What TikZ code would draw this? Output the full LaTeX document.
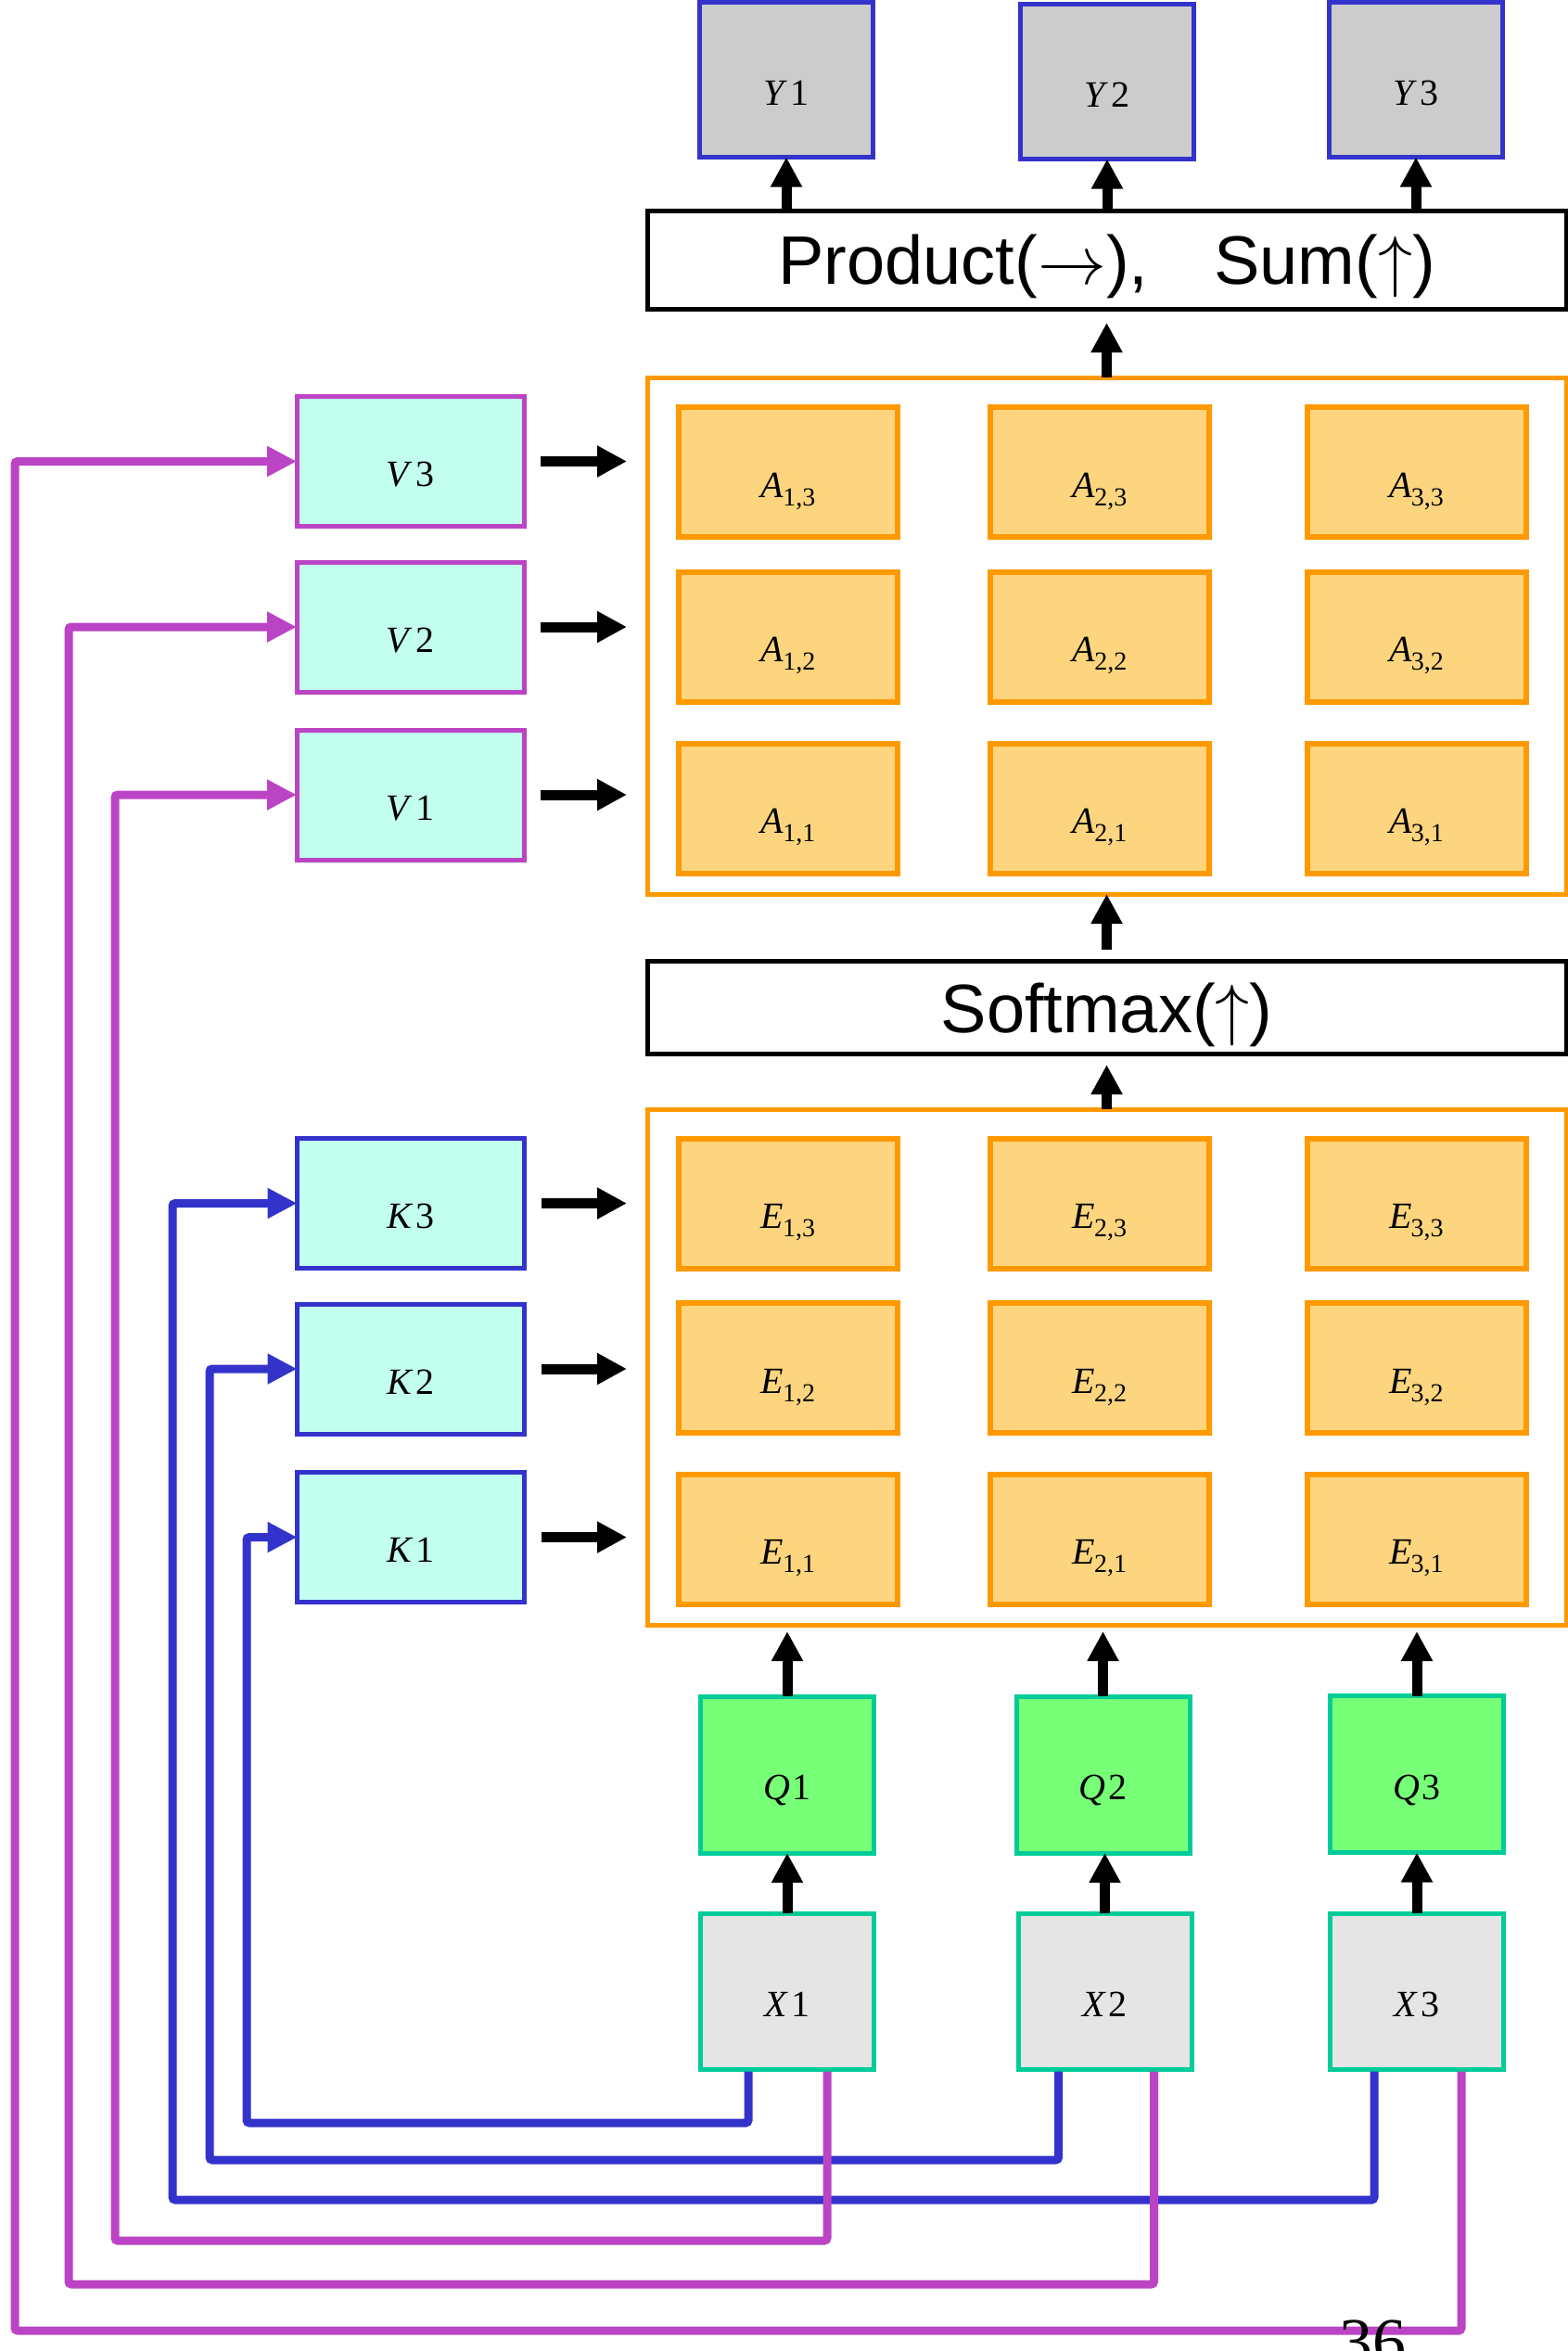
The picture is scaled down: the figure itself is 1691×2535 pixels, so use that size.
\RequirePackage{fix-cm}
\documentclass[tikz,border=0pt]{standalone}
\usepackage{fontspec}
\setmainfont{Liberation Serif}
\newfontfamily\arialfont{Liberation Sans}
\usetikzlibrary{arrows.meta,calc}
\definecolor{mag}{HTML}{BB44C4}
\definecolor{blu}{HTML}{3333CC}
\definecolor{aqua}{HTML}{C2FFEE}
\definecolor{orng}{HTML}{FF9900}
\definecolor{cellfill}{HTML}{FDD57E}
\definecolor{grn}{HTML}{77FF77}
\definecolor{tealb}{HTML}{00CC99}
\definecolor{xgray}{HTML}{E5E5E5}
\definecolor{ygray}{HTML}{CCCCCC}
\newcommand\varlab[2]{\textit{#1}\kern3pt#2}
\newcommand\sublab[2]{\textit{#1}\kern-1pt\raisebox{-9pt}{\fontsize{28}{28}\selectfont #2}}
\begin{document}
\begin{tikzpicture}[x=1pt,y=-1pt,
  bx/.style={rectangle, line width=5pt, inner sep=0pt, outer sep=0pt},
  ybox/.style={bx, draw=blu, fill=ygray, minimum width=187pt, minimum height=167pt},
  vbox/.style={bx, draw=mag, fill=aqua, minimum width=245pt, minimum height=140pt},
  kbox/.style={bx, draw=blu, fill=aqua, minimum width=245pt, minimum height=140pt},
  cell/.style={bx, line width=6pt, draw=orng, fill=cellfill, minimum width=236pt, minimum height=140pt},
  cont/.style={bx, draw=orng, minimum width=991pt, minimum height=557pt},
  wide/.style={bx, draw=black, fill=white, minimum width=991pt, minimum height=#1},
  qbox/.style={bx, draw=tealb, fill=grn, minimum width=187pt, minimum height=169pt},
  xbox/.style={bx, draw=tealb, fill=xgray, minimum width=187pt, minimum height=168pt},
  lab/.style={anchor=base, inner sep=0pt, font=\fontsize{40}{40}\selectfont},
  bigtext/.style={anchor=base, inner sep=0pt, font=\arialfont\fontsize{74}{74}\selectfont},
  blk/.style={draw=black, line width=11pt, -{Triangle[length=32pt,width=32pt]}},
  bwire/.style={draw=blu, line width=9pt, rounded corners=3pt, -{Triangle[length=32pt,width=31pt]}},
  mwire/.style={draw=mag, line width=9pt, rounded corners=3pt, -{Triangle[length=32pt,width=31pt]}}
]
\useasboundingbox (0,0) rectangle (1691,2535);
\clip (0,0) rectangle (1691,2535);

% Y outputs
\node[ybox] (Y1) at (848,86) {};
\node[ybox] (Y2) at (1194,88) {};
\node[ybox] (Y3) at (1527,86) {};
\node[lab] at ($(Y1.center)+(0,27)$) {\varlab{Y}{1}};
\node[lab] at ($(Y2.center)+(0,27)$) {\varlab{Y}{2}};
\node[lab] at ($(Y3.center)+(0,27)$) {\varlab{Y}{3}};

% Product box
\node[wide=106pt] (Prod) at (1193.5,280) {};
\node[bigtext] at ($(Prod.center)+(0,26)$) {Product(\(\rightarrow\)),\hspace{71pt}Sum(\(\uparrow\))};

% A container and cells
\node[cont] (Acont) at (1193.5,685.5) {};
\foreach \i/\cx in {1/850,2/1186,3/1527.5}{
  \foreach \j/\cy in {3/509,2/686.5,1/871.5}{
    \node[cell] (A\i\j) at (\cx,\cy) {};
    \node[lab] at ($(A\i\j.center)+(0,27)$) {\sublab{A}{\i,\j}};
  }
}

% V boxes
\node[vbox] (V3) at (442.5,497.5) {};
\node[vbox] (V2) at (442.5,676) {};
\node[vbox] (V1) at (442.5,857) {};
\node[lab] at ($(V3.center)+(0,27)$) {\varlab{V}{3}};
\node[lab] at ($(V2.center)+(0,27)$) {\varlab{V}{2}};
\node[lab] at ($(V1.center)+(0,27)$) {\varlab{V}{1}};

% Softmax
\node[wide=100pt] (Soft) at (1193.5,1086) {};
\node[bigtext] at ($(Soft.center)+(0,27)$) {Softmax(\(\uparrow\))};

% E container and cells
\node[cont, minimum height=556pt] (Econt) at (1193.5,1474) {};
\foreach \i/\cx in {1/850,2/1186,3/1527.5}{
  \foreach \j/\cy in {3/1297.5,2/1475,1/1659.5}{
    \node[cell] (E\i\j) at (\cx,\cy) {};
    \node[lab] at ($(E\i\j.center)+(0,27)$) {\sublab{E}{\i,\j}};
  }
}

% K boxes
\node[kbox] (K3) at (443,1297.5) {};
\node[kbox] (K2) at (443,1476) {};
\node[kbox] (K1) at (443,1657.5) {};
\node[lab] at ($(K3.center)+(0,27)$) {\varlab{K}{3}};
\node[lab] at ($(K2.center)+(0,27)$) {\varlab{K}{2}};
\node[lab] at ($(K1.center)+(0,27)$) {\varlab{K}{1}};

% Q boxes
\node[qbox] (Q1) at (849,1913.5) {};
\node[qbox] (Q2) at (1189.5,1913.5) {};
\node[qbox] (Q3) at (1528,1913) {};
\node[lab] at ($(Q1.center)+(0,27)$) {\varlab{Q}{1}};
\node[lab] at ($(Q2.center)+(0,27)$) {\varlab{Q}{2}};
\node[lab] at ($(Q3.center)+(0,27)$) {\varlab{Q}{3}};

% X boxes
\node[xbox] (X1) at (849,2147) {};
\node[xbox] (X2) at (1191.5,2147) {};
\node[xbox] (X3) at (1528,2147) {};
\node[lab] at ($(X1.center)+(0,27)$) {\varlab{X}{1}};
\node[lab] at ($(X2.center)+(0,27)$) {\varlab{X}{2}};
\node[lab] at ($(X3.center)+(0,27)$) {\varlab{X}{3}};

% black arrows
\foreach \n in {1,2,3}{
  \draw[blk] (Prod.north -| Y\n.south) -- (Y\n.south);
  \draw[blk, shorten <=18pt, shorten >=22pt] (V\n.east) -- (V\n.east -| Acont.west);
  \draw[blk, shorten <=18pt, shorten >=22pt] (K\n.east) -- (K\n.east -| Econt.west);
  \draw[blk, shorten >=7pt] (Q\n.north) -- (Q\n.north |- Econt.south);
  \draw[blk] (X\n.north) -- (X\n.north |- Q\n.south);
}
\draw[blk, shorten >=15pt] (Acont.north) -- (Prod.south);
\draw[blk, shorten <=12pt] (Soft.north) -- (Acont.south);
\draw[blk, shorten >=12pt] (Econt.north) -- (Soft.south);

% wires
\coordinate (kb1) at (266,2289);
\coordinate (kb2) at (226,2329);
\coordinate (kb3) at (186,2372);
\coordinate (vb1) at (124,2416);
\coordinate (vb2) at (74,2463);
\coordinate (vb3) at (16,2513);
\draw[bwire] ([xshift=-42pt,yshift=-2.5pt]X1.south) |- (kb1) |- (K1.west);
\draw[bwire] ([xshift=-50pt,yshift=-2.5pt]X2.south) |- (kb2) |- (K2.west);
\draw[bwire] ([xshift=-46pt,yshift=-2.5pt]X3.south) |- (kb3) |- (K3.west);
\draw[mwire] ([xshift=43pt,yshift=-2.5pt]X1.south) |- (vb1) |- (V1.west);
\draw[mwire] ([xshift=53pt,yshift=-2.5pt]X2.south) |- (vb2) |- (V2.west);
\draw[mwire] ([xshift=48pt,yshift=-2.5pt]X3.south) |- (vb3) |- (V3.west);

% page number (cut off, as in the original)
\node[anchor=base west, inner sep=0pt, font=\fontsize{72}{72}\selectfont] (pg) at (1444,2549) {36};
\end{tikzpicture}
\end{document}
